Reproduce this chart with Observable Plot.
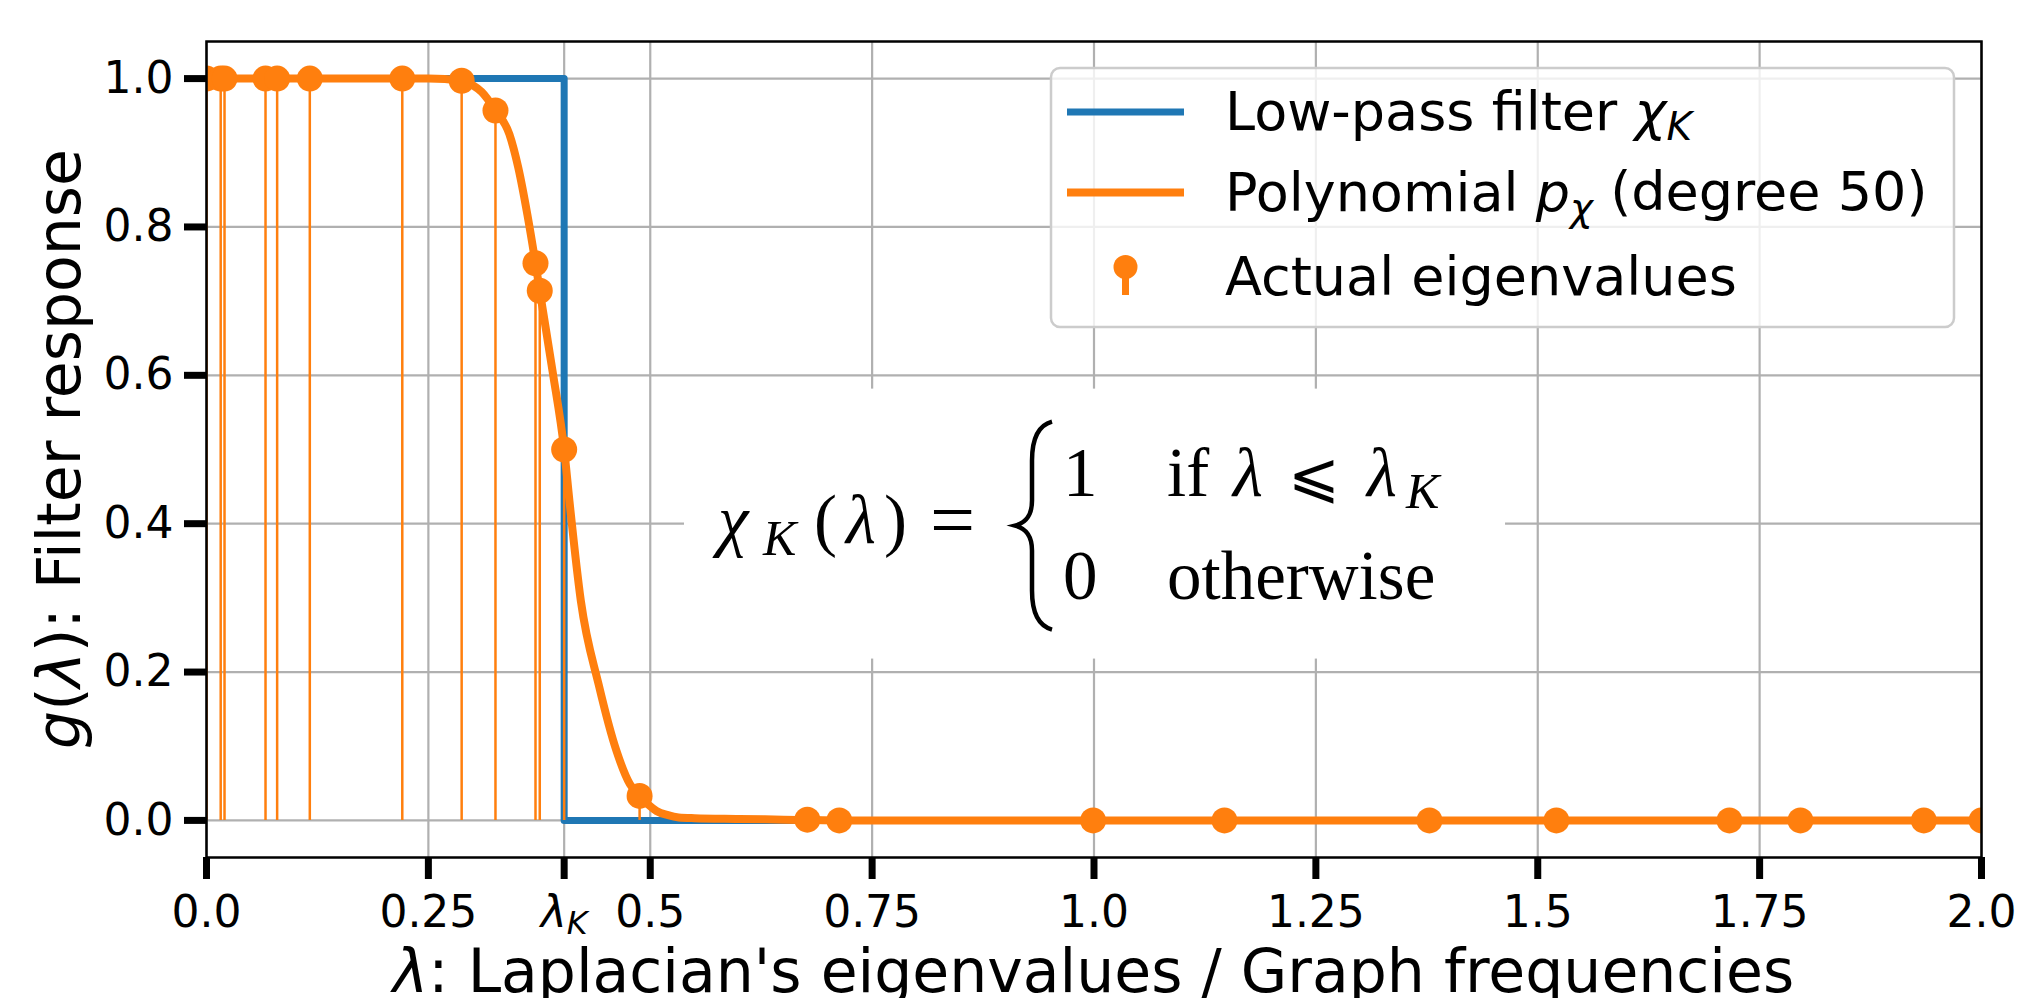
<!DOCTYPE html>
<html><head><meta charset="utf-8">
<script src="https://cdn.jsdelivr.net/npm/d3@7"></script>
<script src="https://cdn.jsdelivr.net/npm/@observablehq/plot@0.6"></script>
<style>
html,body{margin:0;padding:0;background:#fff;overflow:hidden;}
#chart{position:relative;width:2017px;height:998px;overflow:hidden;}
</style></head><body><div id="chart"></div>
<script>
// ---- data ----
const lambdaK = 0.403;
// actual eigenvalues (x) and polynomial response at them (y)
const eigX = [0, 0.016, 0.0203, 0.0665, 0.0796, 0.1164, 0.2206, 0.2875, 0.3256, 0.3707, 0.3755, 0.403, 0.488, 0.677, 0.713, 0.999, 1.147, 1.378, 1.521, 1.716, 1.796, 1.935, 2.0];
const eigY = [1, 1, 1, 1, 1, 1, 1.0, 0.997, 0.957, 0.751, 0.714, 0.500, 0.033, 0.001, 0, 0, 0, 0, 0, 0, 0, 0, 0];
// polynomial p_chi (degree 50)
const polyX = [0, 0.05, 0.1, 0.15, 0.2, 0.25, 0.2875, 0.30, 0.31, 0.3256, 0.3413, 0.3513, 0.3615, 0.3707, 0.3755, 0.39, 0.403, 0.409, 0.4218, 0.4419, 0.462, 0.477, 0.488, 0.498, 0.507, 0.52, 0.532, 0.55, 0.60, 0.65, 0.677, 0.72, 1.0, 1.5, 2.0];
const polyY = [1, 1, 1, 1, 1, 1, 0.997, 0.991, 0.982, 0.957, 0.925, 0.88, 0.817, 0.751, 0.714, 0.605, 0.50, 0.43, 0.296, 0.183, 0.0935, 0.049, 0.033, 0.021, 0.0127, 0.007, 0.004, 0.003, 0.002, 0.001, 0.0005, 0, 0, 0, 0];
// ideal low-pass filter chi_K
const lowpassX = [0, lambdaK, 2];
const lowpassY = [1, 0, 0];
// ticks
const xTicks = [0, 0.25, lambdaK, 0.5, 0.75, 1.0, 1.25, 1.5, 1.75, 2.0];
const xTickLabels = ["0.0", "0.25", "λK", "0.5", "0.75", "1.0", "1.25", "1.5", "1.75", "2.0"];
const yTicks = [0, 0.2, 0.4, 0.6, 0.8, 1.0];
const yTickLabels = ["0.0", "0.2", "0.4", "0.6", "0.8", "1.0"];
// annotation box (data coords) for the formula
const formulaBox = [0.5386, 1.4637, 0.2175, 0.5814];
const legendLabels = ["Low-pass filter ", "Polynomial ", "Actual eigenvalues"];

(function draw() {
const BLUE = "#1f77b4", ORANGE = "#ff7f0e";
const TICK_FS = 44, LEG_FS = 54, LAB_FS = 60;
const eig = eigX.map((x, i) => ({x, y: eigY[i]}));
const poly = polyX.map((x, i) => ({x, y: polyY[i]}));
const low = lowpassX.map((x, i) => ({x, y: lowpassY[i]}));
const box = [{x1: formulaBox[0], x2: formulaBox[1], y1: formulaBox[2], y2: formulaBox[3]}];
const xLab = new Map(xTicks.map((t, i) => [t, xTickLabels[i]]));
const yLab = new Map(yTicks.map((t, i) => [t, yTickLabels[i]]));

const plot = Plot.plot({
  width: 2017, height: 998,
  marginLeft: 206, marginRight: 36, marginTop: 41, marginBottom: 141,
  style: {fontFamily: "'DejaVu Sans'", fontSize: TICK_FS + "px", color: "black", background: "white", overflow: "hidden"},
  x: {domain: [0, 2]},
  y: {domain: [-0.05, 1.05]},
  marks: [
    Plot.gridX(xTicks, {stroke: "#b0b0b0", strokeOpacity: 1, strokeWidth: 2.2}),
    Plot.gridY(yTicks, {stroke: "#b0b0b0", strokeOpacity: 1, strokeWidth: 2.2}),
    Plot.rect(box, {x1: "x1", x2: "x2", y1: "y1", y2: "y2", fill: "white"}),
    Plot.line(low, {x: "x", y: "y", curve: "step-after", stroke: BLUE, strokeWidth: 7, strokeLinejoin: "round", clip: true}),
    Plot.line(poly, {x: "x", y: "y", curve: "monotone-x", stroke: ORANGE, strokeWidth: 8, strokeLinejoin: "round", clip: true}),
    Plot.ruleX(eig, {x: "x", y1: 0, y2: "y", stroke: ORANGE, strokeWidth: 2.5, clip: true}),
    Plot.dot(eig, {x: "x", y: "y", r: 13, fill: ORANGE, stroke: null, clip: true}),
    Plot.frame({stroke: "black", strokeWidth: 2.5}),
    Plot.axisX(xTicks, {tickFormat: d => xLab.get(d), tickSize: 22, tickPadding: 16, strokeWidth: 7, fontSize: TICK_FS, label: null}),
    Plot.axisY(yTicks, {tickFormat: d => yLab.get(d), tickSize: 22, tickPadding: 11, strokeWidth: 7, fontSize: TICK_FS, label: null})
  ]
});
document.getElementById("chart").appendChild(plot);

const svg = d3.select(plot);
const sx = plot.scale("x"), sy = plot.scale("y");
const X = v => sx.apply(v), Y = v => sy.apply(v);
const fL = X(0), fR = X(2), fT = Y(1.05), fB = Y(-0.05);

// λK tick label with italic λ and subscript K
svg.selectAll("text").each(function () {
  if (this.textContent === "λK") {
    const t = d3.select(this);
    t.text(null);
    t.append("tspan").attr("font-style", "italic").text("λ");
    t.append("tspan").attr("font-style", "italic").attr("font-size", "0.72em").attr("dy", "0.22em").text("K");
  }
});

// axis labels
const xl = svg.append("text").attr("x", (fL + fR) / 2).attr("y", 992)
  .attr("text-anchor", "middle").attr("font-size", LAB_FS).attr("font-family", "DejaVu Sans").attr("fill", "black");
xl.append("tspan").attr("font-style", "italic").text("λ");
xl.append("tspan").text(": Laplacian's eigenvalues / Graph frequencies");

const yl = svg.append("text").attr("transform", `translate(80,${(fT + fB) / 2}) rotate(-90)`)
  .attr("text-anchor", "middle").attr("font-size", LAB_FS).attr("font-family", "DejaVu Sans").attr("fill", "black");
yl.append("tspan").attr("font-style", "italic").text("g");
yl.append("tspan").text("(");
yl.append("tspan").attr("font-style", "italic").text("λ");
yl.append("tspan").text("): Filter response");

// legend (upper right, inside axes)
const LW = 903, LH = 259;
const lx = fR - 27 - LW, ly = fT + 27;
const lg = svg.append("g").attr("font-family", "DejaVu Sans").attr("font-size", LEG_FS)
  .attr("fill", "black").attr("text-anchor", "start");
lg.append("rect").attr("x", lx).attr("y", ly).attr("width", LW).attr("height", LH).attr("rx", 9)
  .attr("fill", "white").attr("fill-opacity", 0.8).attr("stroke", "#cccccc").attr("stroke-width", 2.5);
const hx0 = lx + 16, hx1 = lx + 133, tx = lx + 174;
const rows = [ly + 62, ly + 142.5, ly + 227];
lg.append("line").attr("x1", hx0).attr("x2", hx1).attr("y1", rows[0] - 18).attr("y2", rows[0] - 18).attr("stroke", BLUE).attr("stroke-width", 7);
lg.append("line").attr("x1", hx0).attr("x2", hx1).attr("y1", rows[1] - 18).attr("y2", rows[1] - 18).attr("stroke", ORANGE).attr("stroke-width", 8);
const hcx = (hx0 + hx1) / 2;
lg.append("line").attr("x1", hcx).attr("x2", hcx).attr("y1", rows[2] - 30).attr("y2", rows[2]).attr("stroke", ORANGE).attr("stroke-width", 7);
lg.append("circle").attr("cx", hcx).attr("cy", rows[2] - 28).attr("r", 12).attr("fill", ORANGE);
const t1 = lg.append("text").attr("x", tx).attr("y", rows[0]);
t1.append("tspan").text(legendLabels[0]);
t1.append("tspan").attr("font-style", "italic").text("χ");
t1.append("tspan").attr("font-style", "italic").attr("font-size", "0.72em").attr("dy", "0.26em").text("K");
const t2 = lg.append("text").attr("x", tx).attr("y", rows[1]);
t2.append("tspan").text(legendLabels[1]);
t2.append("tspan").attr("font-style", "italic").text("p");
t2.append("tspan").attr("font-style", "italic").attr("font-size", "0.72em").attr("dy", "0.26em").text("χ");
t2.append("tspan").attr("dy", "-0.19em").text(" (degree 50)");
lg.append("text").attr("x", tx).attr("y", rows[2]).text(legendLabels[2]);

// formula inside the white box
const bx = X(formulaBox[0]), by = Y(formulaBox[3]);
const fg = svg.append("g").attr("font-family", "'Liberation Serif', 'DejaVu Serif', serif")
  .attr("fill", "black").attr("text-anchor", "start");
const ft = (x, y, s, size, italic) => fg.append("text").attr("x", bx + x).attr("y", by + y)
  .attr("font-size", size).attr("font-style", italic ? "italic" : "normal").text(s);
ft(34, 154, "χ", 69, true);
ft(79, 166, "K", 50, true);
ft(130, 154, "(", 69, false);
ft(162, 154, "λ", 69, true);
ft(200, 154, ")", 69, false);
ft(246, 158, "=", 80, false);
fg.append("path")
  .attr("d", `M${bx + 368},${by + 33} C${bx + 353},${by + 37} ${bx + 348},${by + 52} ${bx + 348},${by + 72} L${bx + 348},${by + 112} C${bx + 348},${by + 127} ${bx + 342},${by + 134} ${bx + 331},${by + 137} C${bx + 342},${by + 140} ${bx + 348},${by + 147} ${bx + 348},${by + 162} L${bx + 348},${by + 202} C${bx + 348},${by + 222} ${bx + 353},${by + 237} ${bx + 368},${by + 241}`)
  .attr("fill", "none").attr("stroke", "black").attr("stroke-width", 4.5);
ft(379, 107, "1", 69, false);
ft(483, 107, "if", 69, false);
ft(549, 107, "λ", 69, true);
ft(604, 107, "⩽", 62, false);
ft(683, 107, "λ", 69, true);
ft(722, 119, "K", 50, true);
ft(379, 210, "0", 69, false);
ft(483, 210, "otherwise", 69, false);
})();
</script></body></html>
